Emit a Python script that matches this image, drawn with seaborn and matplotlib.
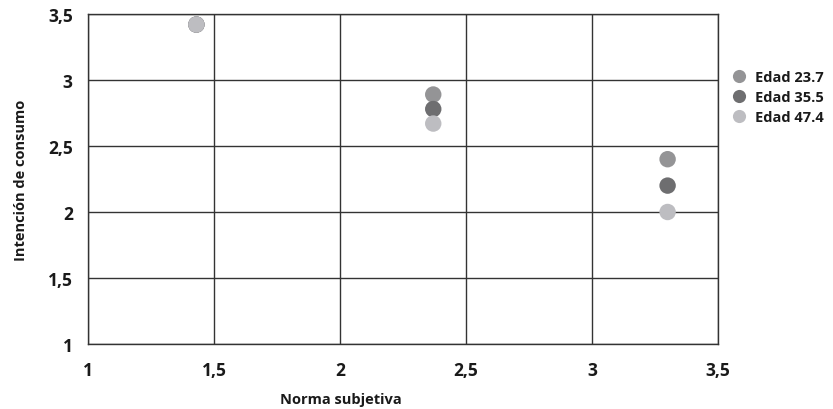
import matplotlib
matplotlib.use("Agg")
import matplotlib.pyplot as plt
import seaborn as sns
import pandas as pd

# Data
norma = [1.43, 2.37, 3.30]
edad_23_7 = [3.42, 2.89, 2.40]
edad_35_5 = [3.42, 2.78, 2.20]
edad_47_4 = [3.42, 2.67, 2.00]
series_names = ["Edad 23.7", "Edad 35.5", "Edad 47.4"]
tick_vals = [1, 1.5, 2, 2.5, 3, 3.5]
tick_labels = ["1", "1,5", "2", "2,5", "3", "3,5"]

rows = []
for name, vals in zip(series_names, [edad_23_7, edad_35_5, edad_47_4]):
    for x, y in zip(norma, vals):
        rows.append({"Norma subjetiva": x, "Intención de consumo": y, "grupo": name})
df = pd.DataFrame(rows)

sns.set_theme(style="white")
plt.rcParams['font.family'] = ['Open Sans', 'DejaVu Sans']
plt.rcParams['font.weight'] = 'bold'

fig = plt.figure(figsize=(8.33, 4.10), dpi=100)
ax = fig.add_axes([88/833, 65/410, 630/833, 330/410])

palette = {"Edad 23.7": "#949496", "Edad 35.5": "#6e6e70", "Edad 47.4": "#bdbdc1"}
sns.scatterplot(data=df, x="Norma subjetiva", y="Intención de consumo", hue="grupo",
                palette=palette, s=140, edgecolor="none", linewidth=0, ax=ax, zorder=3)

ax.set_xlim(1, 3.5)
ax.set_ylim(1, 3.5)
ax.grid(True, color="#333333", linewidth=1.0)
ax.set_axisbelow(True)
for sp in ax.spines.values():
    sp.set_color("#333333")
    sp.set_linewidth(1.0)
ax.tick_params(axis="both", length=0)
ax.tick_params(axis="x", pad=12)
ax.tick_params(axis="y", pad=11)
ax.set_xticks(tick_vals)
ax.set_xticklabels(tick_labels, fontweight="bold", fontsize=12.5, color="#1a1a1a")
ax.set_yticks(tick_vals)
ax.set_yticklabels(tick_labels, fontweight="bold", fontsize=12.5, color="#1a1a1a")

ax.set_xlabel("Norma subjetiva", fontsize=10.5, fontweight="bold", color="#1a1a1a")
ax.set_ylabel("Intención de consumo", fontsize=10.5, fontweight="bold", color="#1a1a1a")
ax.xaxis.set_label_coords((341-88)/630, -0.145)
ax.yaxis.set_label_coords(-0.096, 0.5)

handles, labels = ax.get_legend_handles_labels()
leg = ax.legend(handles, labels, loc="upper left", bbox_to_anchor=(724/833, 1 - 71/410),
                bbox_transform=fig.transFigure, frameon=False, markerscale=0.8,
                handletextpad=0.15, labelspacing=0.4, borderpad=0, borderaxespad=0,
                prop={"weight": "bold", "size": 10.5})
for t in leg.get_texts():
    t.set_color("#1a1a1a")

fig.savefig("out.png", dpi=100)
